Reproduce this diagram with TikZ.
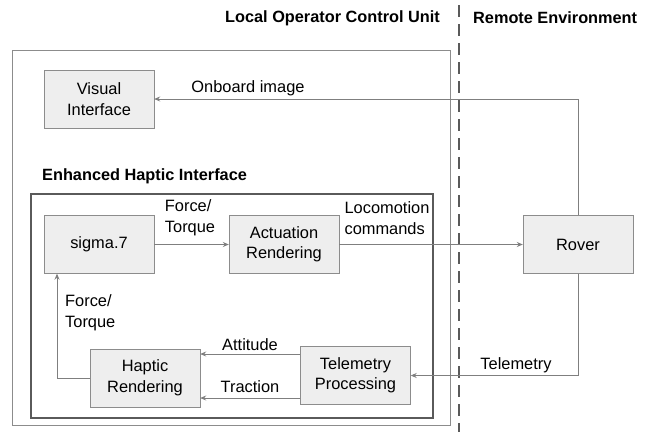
\documentclass[tikz,border=0pt]{standalone}
\usepackage{fontspec}
\setmainfont{Liberation Sans}
\usetikzlibrary{arrows.meta}
\definecolor{boxfill}{HTML}{EEEEEE}
\definecolor{boxline}{HTML}{8C8C8C}
\definecolor{wirecol}{HTML}{7F7F7F}
\definecolor{framecol}{HTML}{5A5A5A}
\newcommand*{\bw}{110pt}
\newcommand*{\bh}{58pt}

\begin{document}
\begin{tikzpicture}[x=1pt, y=-1pt, font=\fontsize{16.4}{20.5}\selectfont,
    block/.style={draw=boxline, fill=boxfill, minimum width=\bw, minimum height=\bh, align=center, inner sep=0pt},
    wire/.style={draw=wirecol, line width=0.8pt, -{Stealth[length=6pt, width=5pt]}},
    lbl/.style={align=left, inner sep=0pt},
    ttl/.style={inner sep=0pt, font=\fontsize{16.3}{20}\selectfont\bfseries}]
    \useasboundingbox (0,0) rectangle (657,432);
    % frames
    \draw [boxline, line width=0.8pt] (12,50) rectangle (450,425);
    \draw [framecol, line width=2pt] (31,194) rectangle (433,418);
    \draw [framecol, line width=2.5pt, dash pattern=on 12pt off 7pt] (459,5) -- (459,432);
    \node [ttl, anchor=east] (local)  at (440,18) {Local Operator Control Unit};
    \node [ttl, anchor=west] (remote) at (473,18) {Remote Environment};
    \node [ttl, anchor=west] (ehi)    at (42,176) {Enhanced Haptic Interface};
    % blocks
    \node [block] (vis)   at (99,99)      {Visual\\Interface};
    \node [block] (sigma) at (99,244.5)   {sigma.7};
    \node [block] (act)   at (284,244.5)  {Actuation\\Rendering};
    \node [block] (rover) at (578,244.5)  {Rover};
    \node [block] (tele)  at (355.5,375.5){Telemetry\\Processing};
    \node [block] (hapt)  at (145,378)    {Haptic\\Rendering};
    % connectors
    \draw [wire] (rover.north) |- (vis.east);
    \draw [wire] (sigma) -- (act);
    \draw [wire] (act) -- (rover);
    \draw [wire] (rover.south) |- (tele.east);
    \draw [wire] (tele.west |- 0,354) -- (hapt.east |- 0,354);
    \draw [wire] (tele.west |- 0,398) -- (hapt.east |- 0,398);
    \draw [wire] (hapt.west) -| ([xshift=-42pt]sigma.south);
    % labels
    \node [lbl] (onboard) at (248,88)  {Onboard image};
    \node [lbl] (ft1)     at (190,218) {Force/\\Torque};
    \node [lbl] (loco)    at (387,218) {Locomotion\\commands};
    \node [lbl] (att)     at (250,345) {Attitude};
    \node [lbl] (trac)    at (250,387) {Traction};
    \node [lbl] (telem)   at (516,365) {Telemetry};
    \node [lbl, anchor=west] (ft2) at (65,313) {Force/\\Torque};
\end{tikzpicture}
\end{document}
